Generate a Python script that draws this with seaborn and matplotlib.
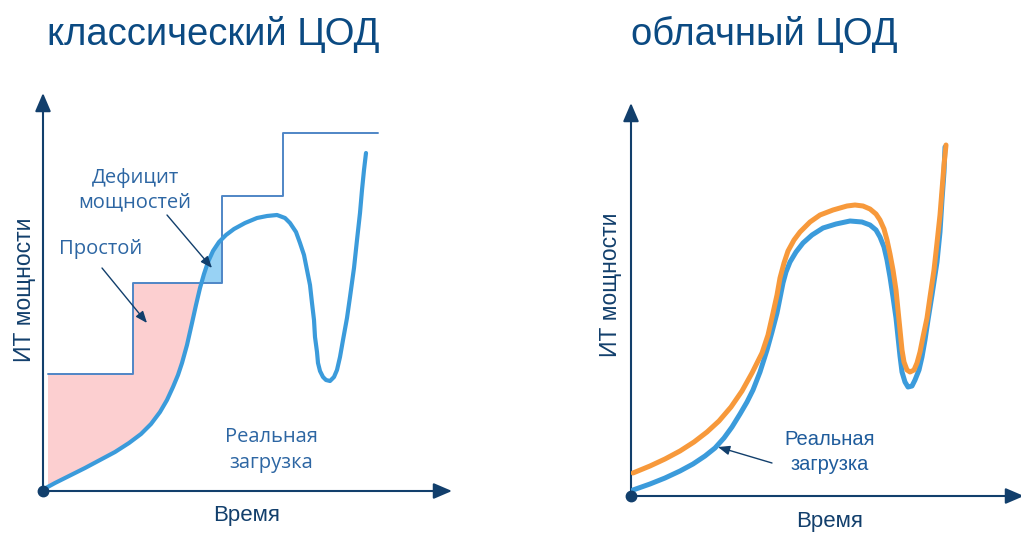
import numpy as np
import matplotlib
matplotlib.use("Agg")
import matplotlib.pyplot as plt
import seaborn as sns

# ---- data (arbitrary units of time and IT capacity) ----
# classic data centre: provisioned capacity grows in steps
cap_edges = [5, 90, 179, 240, 335]
cap_levels = [117, 208, 295, 358, 358]

# classic data centre: real load
load_t = [1, 12, 22, 32, 42, 57, 72, 86, 98, 108, 117, 124, 130, 135, 139,
          144, 149, 153, 157, 161, 165, 170, 176, 183, 191, 202, 214, 224,
          234, 242, 247, 253, 257, 261, 264, 267, 269, 271, 272, 274, 275,
          277, 280, 283, 287, 291, 294, 297, 300, 304, 307, 311, 314, 317,
          319, 321, 323]
load_v = [2, 8, 13, 18, 23, 31, 39, 48, 57, 67, 79, 91, 104, 116, 128,
          146, 168, 186, 203, 217, 229, 240, 249, 256, 262, 268, 273, 275,
          276, 273, 268, 259, 248, 236, 221, 206, 188, 171, 154, 139, 128,
          120, 114, 111, 110, 114, 121, 134, 151, 173, 194, 223, 251, 278,
          301, 321, 338]

# cloud data centre: real load
cloud_load_t = [2, 19, 34, 49, 62, 74, 84, 93, 101, 109, 116, 122, 129, 136,
                141, 146, 149, 152, 155, 159, 165, 172, 181, 192, 205, 219,
                231, 239, 245, 249, 253, 256, 259, 262, 265, 267, 269, 271,
                274, 277, 281, 284, 288, 291, 294, 297, 301, 306, 309, 311,
                313, 314]
cloud_load_v = [6, 12, 18, 25, 32, 40, 48, 58, 69, 82, 94, 106, 124, 146,
                164, 183, 198, 213, 224, 234, 244, 253, 261, 268, 272, 275,
                274, 271, 266, 259, 249, 236, 219, 199, 178, 159, 140, 124,
                114, 109, 110, 116, 126, 139, 156, 176, 201, 234, 264, 296,
                324, 349]

# cloud data centre: capacity that follows the load
cloud_cap_t = [2, 19, 34, 49, 63, 76, 88, 100, 111, 121, 131, 137, 142, 146,
               149, 153, 157, 163, 169, 179, 189, 202, 216, 224, 232, 239,
               245, 249, 253, 256, 259, 262, 265, 267, 269, 271, 273, 276,
               279, 283, 286, 289, 292, 296, 299, 303, 306, 309, 311, 313, 315]
cloud_cap_v = [23, 30, 37, 45, 54, 64, 75, 89, 105, 123, 143, 161, 183, 201,
               218, 233, 245, 256, 264, 274, 281, 286, 290, 291, 290, 287,
               282, 276, 267, 256, 242, 226, 206, 186, 166, 146, 134, 126,
               124, 126, 133, 144, 159, 178, 199, 226, 253, 281, 306, 331, 351]

titles = ["классический ЦОД", "облачный ЦОД"]
y_label = "ИТ мощности"
x_label = "Время"
load_label = "Реальная\nзагрузка"
idle_label = "Простой"
deficit_label = "Дефицит\nмощностей"

# ---- style ----
sns.set_theme(style="white")
plt.rcParams["font.family"] = ["Liberation Sans", "DejaVu Sans"]

NAVY = "#123f6c"
TITLE_C = "#0b4a82"
NOTE_C = "#2d66a3"
STEP_C = "#4f86c6"
LOAD_C = "#3b9bdb"
ORANGE = "#f7993b"
PINK = "#fccfd0"
LIGHTBLUE = "#98d2f4"

W, H = 1021, 533
fig = plt.figure(figsize=(W / 100, H / 100), dpi=100)


def px_axes(x0, y0, x1, y1):
    """Axes spanning pixel box: origin (x0, y0), far corner (x1, y1), y down."""
    return fig.add_axes([x0 / W, 1 - y0 / H, (x1 - x0) / W, (y0 - y1) / H])


def style_axes(ax, xmax, ymax, xtip, ytip):
    ax.set_xlim(0, xmax)
    ax.set_ylim(0, ymax)
    ax.set_xticks([])
    ax.set_yticks([])
    for s in ax.spines.values():
        s.set_visible(False)
    ax.patch.set_alpha(0)
    arrow = dict(arrowstyle="-|>,head_length=0.7,head_width=0.3", color=NAVY,
                 lw=1.5, mutation_scale=16, shrinkA=0, shrinkB=0)
    ax.annotate("", xy=(0, ytip), xytext=(0, 0), arrowprops=arrow,
                annotation_clip=False)
    ax.annotate("", xy=(xtip, 0), xytext=(0, 0), arrowprops=arrow,
                annotation_clip=False)
    ax.plot([0], [0], "o", color=NAVY, ms=7.5, clip_on=False, zorder=10)


thin = dict(arrowstyle="-|>,head_length=0.5,head_width=0.2", color=NAVY,
            lw=1.0, mutation_scale=14, shrinkA=0, shrinkB=0)
note_font = dict(family=["Open Sans", "DejaVu Sans"], color=NOTE_C)

# ---------- left panel: classic ----------
axL = px_axes(43, 491, 455, 90)
style_axes(axL, 412, 401, 409, 398)

# idle (pink) and deficit (light blue) areas between capacity and load
xs = np.linspace(cap_edges[0], cap_edges[2], 4000)
lv = np.interp(xs, load_t, load_v)
idx = np.searchsorted(cap_edges, xs, side="right") - 1
cv = np.array(cap_levels, dtype=float)[np.clip(idx, 0, len(cap_levels) - 1)]
axL.fill_between(xs, lv, cv, where=lv <= cv, interpolate=True,
                 color=PINK, lw=0, zorder=1)
axL.fill_between(xs, cv, lv, where=lv > cv, interpolate=True,
                 color=LIGHTBLUE, lw=0, zorder=1)

sns.lineplot(x=cap_edges, y=cap_levels, ax=axL, color=STEP_C, lw=1.4,
             drawstyle="steps-post", sort=False, zorder=2)
sns.lineplot(x=load_t, y=load_v, ax=axL, color=LOAD_C, lw=3.0,
             sort=False, zorder=3)

axL.text(92, 301, deficit_label, ha="center", va="center", fontsize=14.5,
         linespacing=1.3, **note_font)
axL.text(58, 242, idle_label, ha="center", va="center", fontsize=14.5,
         **note_font)
axL.text(228, 41, load_label, ha="center", va="center", fontsize=14.5,
         linespacing=1.35, **note_font)

axL.annotate("", xy=(104, 168), xytext=(59, 223), arrowprops=thin)
axL.annotate("", xy=(169, 223), xytext=(124, 276), arrowprops=thin)

axL.text(204, -24, x_label, ha="center", va="center", fontsize=16,
         color=NAVY)
axL.text(-19, 201, y_label, ha="center", va="center", fontsize=16.5,
         rotation=90, color=NAVY)

# ---------- right panel: cloud ----------
axR = px_axes(631, 496, 1024, 103)
style_axes(axR, 393, 393, 393, 393)

sns.lineplot(x=cloud_load_t, y=cloud_load_v, ax=axR, color=LOAD_C, lw=3.6,
             sort=False, zorder=3)
sns.lineplot(x=cloud_cap_t, y=cloud_cap_v, ax=axR, color=ORANGE, lw=3.6,
             sort=False, zorder=4)

axR.text(199, 44, load_label, ha="center", va="center", fontsize=14.5,
         linespacing=1.35, color="#1f5c9c")
axR.annotate("", xy=(87, 49), xytext=(141, 33), arrowprops=thin)

axR.text(199, -26, x_label, ha="center", va="center", fontsize=16,
         color=NAVY)
axR.text(-21, 211, y_label, ha="center", va="center", fontsize=16.5,
         rotation=90, color=NAVY)

# ---------- titles ----------
fig.text(47 / W, 1 - 45 / H, titles[0], ha="left", va="baseline",
         fontsize=27.5, color=TITLE_C)
fig.text(631 / W, 1 - 45 / H, titles[1], ha="left", va="baseline",
         fontsize=27.5, color=TITLE_C)

fig.savefig("out.png", dpi=100, facecolor="white")
